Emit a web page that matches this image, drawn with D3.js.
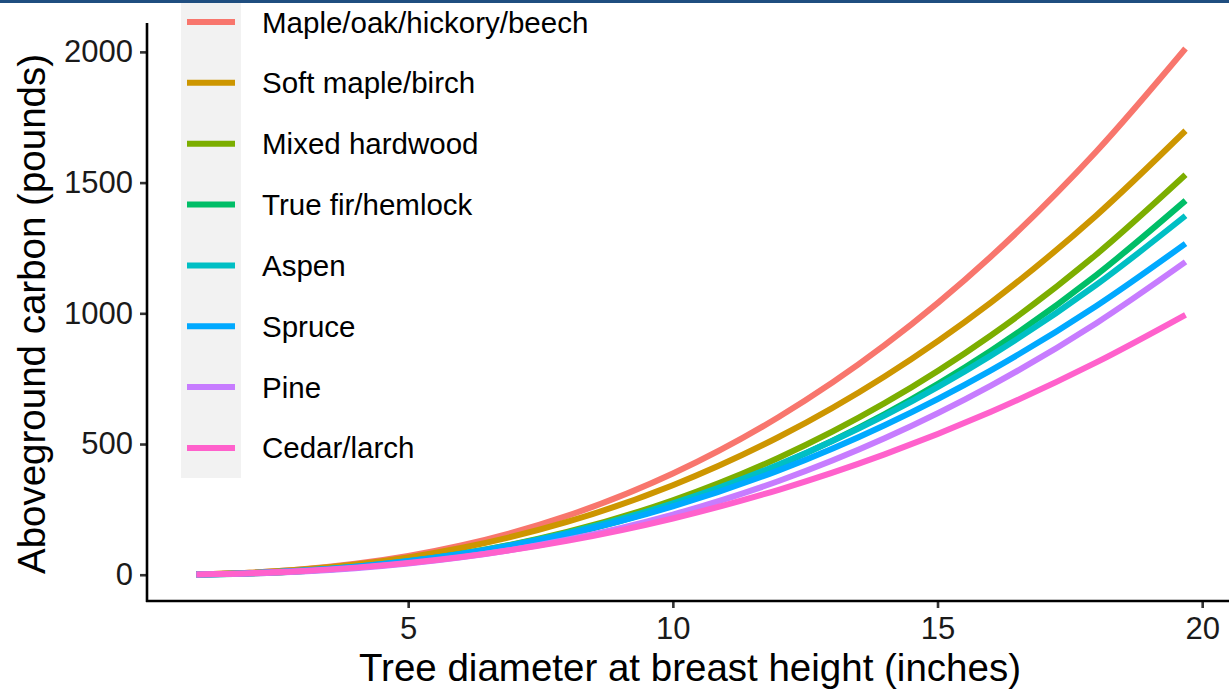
<!DOCTYPE html>
<html>
<head>
<meta charset="utf-8">
<script src="https://cdn.jsdelivr.net/npm/d3@7"></script>
<style>
  html, body { margin: 0; padding: 0; background: #fff; }
  svg { display: block; font-family: "Liberation Sans", Arial, sans-serif; }
</style>
</head>
<body>
<svg id="chart" width="1229" height="693"></svg>
<script>
// Diameter at breast height (inches)
const diameters = [1, 2, 3, 4, 5, 6, 8, 10, 12, 14, 16, 18, 19.685];

// Aboveground carbon (pounds) per group
const seriesNames = [
  "Maple/oak/hickory/beech",
  "Soft maple/birch",
  "Mixed hardwood",
  "True fir/hemlock",
  "Aspen",
  "Spruce",
  "Pine",
  "Cedar/larch"
];
const mapleOak   = [1.42, 7.70, 20.66, 41.61, 71.63, 111.64, 224.88, 387.12, 603.38, 878.12, 1215.40, 1618.95, 2012.95];
const softMaple  = [1.48, 7.61, 19.85, 39.19, 66.44, 102.25, 201.92, 342.28, 526.80, 758.55, 1040.26, 1374.43, 1698.40];
const mixedHard  = [0.93, 5.23, 14.31, 29.23, 50.88, 80.02, 163.49, 284.55, 447.52, 656.25, 914.31, 1224.99, 1529.80];
const trueFir    = [0.88, 4.91, 13.44, 27.44, 47.74, 75.05, 153.24, 266.59, 419.11, 614.40, 855.76, 1146.26, 1431.20];
const aspen      = [1.12, 5.85, 15.41, 30.61, 52.15, 80.58, 160.10, 272.70, 421.38, 608.77, 837.27, 1109.05, 1373.10];
const spruce     = [1.21, 6.12, 15.74, 30.80, 51.83, 79.29, 155.10, 261.00, 399.31, 572.07, 781.10, 1028.05, 1266.60];
const pine       = [0.84, 4.57, 12.26, 24.71, 42.54, 66.31, 133.59, 230.01, 358.54, 521.85, 722.36, 962.28, 1196.60];
const cedarLarch = [1.19, 5.67, 14.18, 27.16, 44.96, 67.88, 130.01, 215.24, 324.95, 460.32, 622.40, 812.15, 994.10];
const seriesValues = [mapleOak, softMaple, mixedHard, trueFir, aspen, spruce, pine, cedarLarch];
const seriesColors = ["#F8766D", "#CD9600", "#7CAE00", "#00BE67", "#00BFC4", "#00A9FF", "#C77CFF", "#FF61CC"];

const xTicks = [5, 10, 15, 20];
const yTicks = [0, 500, 1000, 1500, 2000];

const svg = d3.select("#chart");

const x = d3.scaleLinear().domain([0.066, 20.62]).range([147, 1235]);
const y = d3.scaleLinear().domain([-100.5, 2110.5]).range([601, 23]);

// lines
const line = d3.line()
  .x(d => x(d[0]))
  .y(d => y(d[1]))
  .curve(d3.curveMonotoneX);

svg.append("g").selectAll("path")
  .data(seriesValues.map((vals, i) => ({ name: seriesNames[i], color: seriesColors[i], pts: diameters.map((d, j) => [d, vals[j]]) })))
  .join("path")
  .attr("d", d => line(d.pts))
  .attr("fill", "none")
  .attr("stroke", d => d.color)
  .attr("stroke-width", 6)
  .attr("stroke-linecap", "butt");

// axes
const xAxis = svg.append("g")
  .attr("transform", "translate(0,601)")
  .call(d3.axisBottom(x).tickValues(xTicks).tickSize(7).tickPadding(9).tickFormat(d3.format("d")));
xAxis.select(".domain").remove();
xAxis.append("line").attr("x1", 146).attr("x2", 1229).attr("y1", 0).attr("y2", 0)
  .attr("stroke", "#000").attr("stroke-width", 2.6);
xAxis.selectAll(".tick line").attr("stroke", "#333").attr("stroke-width", 2.6);
xAxis.selectAll(".tick text").attr("fill", "#1a1a1a").attr("font-size", 31)
  .attr("font-family", "Liberation Sans, Arial, sans-serif");

const yAxis = svg.append("g")
  .attr("transform", "translate(147,0)")
  .call(d3.axisLeft(y).tickValues(yTicks).tickSize(7).tickPadding(7).tickFormat(d3.format("d")));
yAxis.select(".domain").remove();
yAxis.append("line").attr("x1", 0).attr("x2", 0).attr("y1", 23).attr("y2", 602)
  .attr("stroke", "#000").attr("stroke-width", 2.6);
yAxis.selectAll(".tick line").attr("stroke", "#333").attr("stroke-width", 2.6);
yAxis.selectAll(".tick text").attr("fill", "#1a1a1a").attr("font-size", 31)
  .attr("font-family", "Liberation Sans, Arial, sans-serif");

// axis titles
svg.append("text")
  .attr("x", 690).attr("y", 681)
  .attr("text-anchor", "middle")
  .attr("font-size", 38.5).attr("fill", "#000")
  .text("Tree diameter at breast height (inches)");

svg.append("text")
  .attr("transform", "translate(45,314) rotate(-90)")
  .attr("text-anchor", "middle")
  .attr("font-size", 38.5).attr("fill", "#000")
  .text("Aboveground carbon (pounds)");

// legend
const legend = svg.append("g");
legend.append("rect")
  .attr("x", 181).attr("y", -8).attr("width", 60).attr("height", 486)
  .attr("fill", "#F2F2F2");
const rowY = i => 22 + i * 60.85;
const items = legend.selectAll("g.item")
  .data(seriesNames.map((n, i) => ({ name: n, color: seriesColors[i], i })))
  .join("g").attr("class", "item");
items.append("line")
  .attr("x1", 187).attr("x2", 235)
  .attr("y1", d => rowY(d.i)).attr("y2", d => rowY(d.i))
  .attr("stroke", d => d.color).attr("stroke-width", 6);
items.append("text")
  .attr("x", 262).attr("y", d => rowY(d.i))
  .attr("dominant-baseline", "central")
  .attr("font-size", 29.5).attr("fill", "#000")
  .text(d => d.name);

// top banner strip
svg.append("rect").attr("x", 0).attr("y", 0).attr("width", 1229).attr("height", 3)
  .attr("fill", "#1F4E80");
</script>
</body>
</html>
